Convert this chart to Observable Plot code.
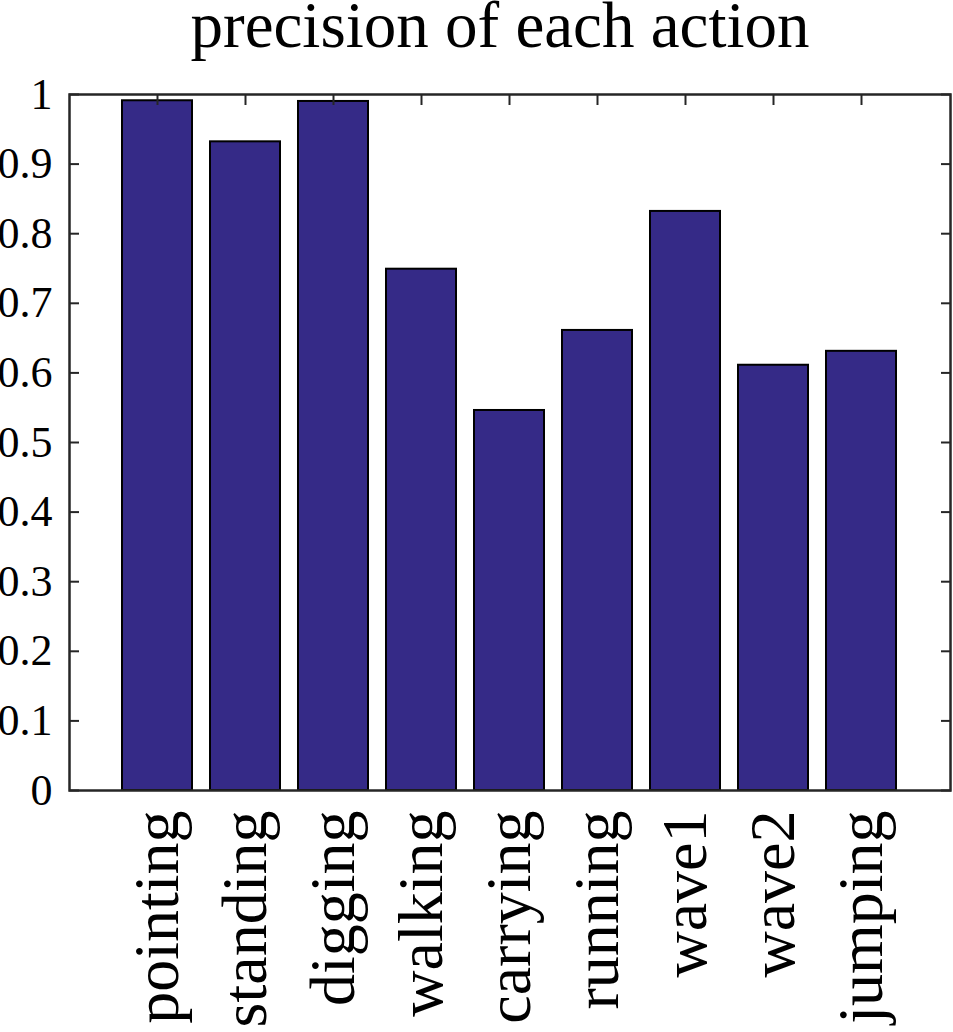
<!DOCTYPE html>
<html>
<head>
<meta charset="utf-8">
<script src="https://cdn.jsdelivr.net/npm/d3@7"></script>
<script src="https://cdn.jsdelivr.net/npm/@observablehq/plot@0.6"></script>
<style>
  html, body { margin: 0; padding: 0; background: #fff; }
  #wrap { width: 953px; position: relative; }
  #title { position: relative; height: 80px; width: 953px; font-family: "Liberation Serif", "Times New Roman", serif; font-size: 65px; }
  #title span { position: absolute; left: 500px; top: -7px; transform: translateX(-50%); white-space: nowrap; line-height: 65px; color: #000; }
</style>
</head>
<body>
<div id="wrap">
  <div id="title"><span>precision of each action</span></div>
  <div id="chart"></div>
</div>
<script>
const actions = ["pointing", "standing", "digging", "walking", "carrying", "running", "wave1", "wave2", "jumping"];
const precision = [0.991, 0.932, 0.990, 0.749, 0.546, 0.661, 0.832, 0.611, 0.631];
const yTicks = [0, 0.1, 0.2, 0.3, 0.4, 0.5, 0.6, 0.7, 0.8, 0.9, 1];

const data = actions.map((a, i) => ({action: a, value: precision[i]}));
const axisColor = "#262626";

const chart = Plot.plot({
  width: 953,
  height: 952,
  marginLeft: 69,
  marginRight: 3,
  marginTop: 14,
  marginBottom: 242,
  style: {fontFamily: "'Liberation Serif', 'Times New Roman', serif", color: "#000", background: "#fff", overflow: "visible"},
  x: {domain: actions, paddingInner: 0.2, paddingOuter: 0.6, align: 0.5},
  y: {domain: [0, 1]},
  marks: [
    Plot.barY(data, {x: "action", y: "value", fill: "#352A87", stroke: "#000", strokeWidth: 2}),
    Plot.axisY({anchor: "left", ticks: yTicks, tickFormat: d => String(d), tickSize: -10, tickPadding: 27, fontSize: 44, stroke: axisColor, strokeWidth: 2, label: null}),
    Plot.axisY({anchor: "right", ticks: yTicks, tickFormat: () => "", tickSize: -10, stroke: axisColor, strokeWidth: 2, label: null}),
    Plot.axisX({anchor: "top", tickFormat: () => "", tickSize: -10, stroke: axisColor, strokeWidth: 2, label: null}),
    Plot.axisX({anchor: "bottom", tickSize: 0, tickPadding: 20, tickRotate: -90, fontSize: 64, label: null}),
    Plot.frame({stroke: axisColor, strokeWidth: 2.5})
  ]
});
document.getElementById("chart").appendChild(chart);
</script>
</body>
</html>
